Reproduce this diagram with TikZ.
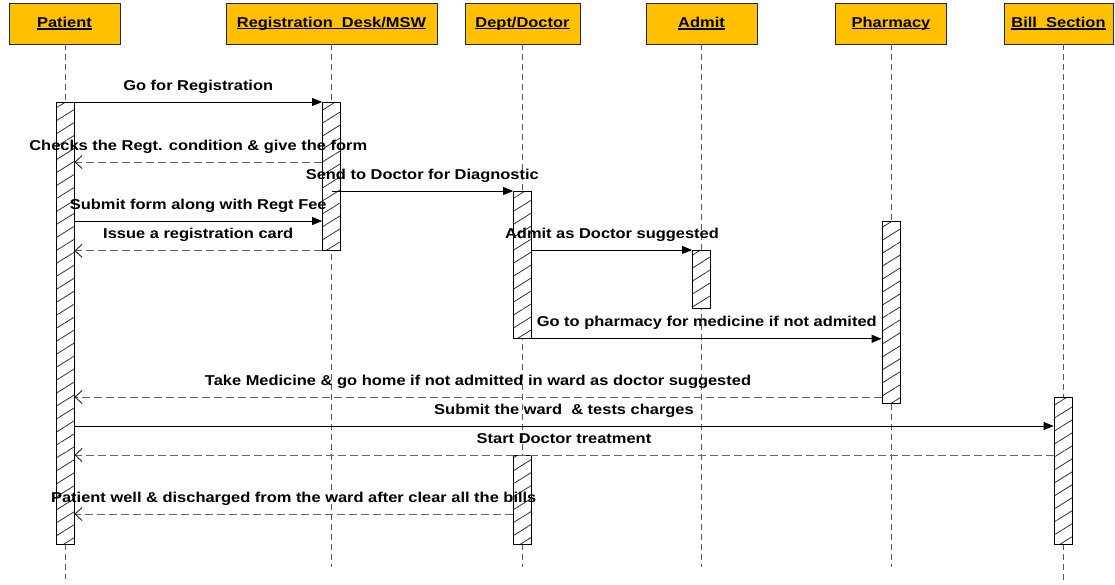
\documentclass[tikz,border=0pt]{standalone}
\usepackage{fontspec}
\setmainfont{Liberation Sans}[FakeStretch=1.15]
\usetikzlibrary{arrows.meta,patterns.meta}
\definecolor{hdrfill}{HTML}{FFC000}
\newcommand\hdrul[1]{\setbox0\hbox{#1}\rlap{\rule[-1.8pt]{\wd0}{1.1pt}}\box0}
\tikzset{
  hdr/.style={draw=black!85, line width=0.9pt, fill=hdrfill, minimum height=41pt, inner sep=0pt,
    font=\bfseries\fontsize{14.3}{16}\selectfont},
  life/.style={draw=black!65, line width=1pt, dash pattern=on 6pt off 4pt},
  actbar/.style={draw=black, line width=0.8pt, minimum width=18pt, inner sep=0pt, anchor=north,
    preaction={fill=white}, pattern={Lines[angle=32,distance=11pt,line width=0.8pt]},
    pattern color=black!80},
  call/.style={draw=black, line width=0.8pt, -{Triangle[length=10pt,width=8pt]}},
  ret/.style={draw=black!60, line width=0.9pt, dash pattern=on 8pt off 4pt,
    -{Straight Barb[length=7pt,width=13pt,color=black!85,line width=0.9pt]}},
  lbl/.style={midway, yshift=15.5pt, inner sep=0pt, text height=10pt, text depth=3pt,
    font=\bfseries\fontsize{14.3}{16}\selectfont}
}
\begin{document}
\begin{tikzpicture}[x=1pt,y=-1pt]
\useasboundingbox (0,0) rectangle (1115,584);
% headers
\node[hdr, minimum width=111pt] (patient) at (64.5,23.5) {\hdrul{Patient}};
\node[hdr, minimum width=211pt] (reg) at (331.5,23.5) {\hdrul{Registration\ \ Desk/MSW}};
\node[hdr, minimum width=115pt] (dept) at (522.5,23.5) {\hdrul{Dept/Doctor}};
\node[hdr, minimum width=111pt] (admit) at (701.5,23.5) {\hdrul{Admit}};
\node[hdr, minimum width=111pt] (pharm) at (891,23.5) {\hdrul{Pharmacy}};
\node[hdr, minimum width=109pt] (bill) at (1058.5,23.5) {\hdrul{Bill\ \ Section}};
% lifeline ends
\coordinate (pend) at (65,579);
\coordinate (rend) at (331.5,567);
\coordinate (dend) at (522.5,567);
\coordinate (aend) at (701.5,567);
\coordinate (phend) at (891,567);
\coordinate (bend) at (1063,584);
\draw[life] (patient.south -| pend) -- (pend);
\draw[life] (reg.south -| rend) -- (rend);
\draw[life] (dept.south -| dend) -- (dend);
\draw[life] (admit.south -| aend) -- (aend);
\draw[life] (pharm.south -| phend) -- (phend);
\draw[life] (bill.south -| bend) -- (bend);
% activation bars
\node[actbar, minimum height=442pt] (pbar) at (65,102) {};
\node[actbar, minimum height=148pt] (rbar) at (331.5,102) {};
\node[actbar, minimum height=147pt] (dbar) at (522.5,191) {};
\node[actbar, minimum height=58pt] (abar) at (701.5,250) {};
\node[actbar, minimum height=182pt] (phbar) at (891,221) {};
\node[actbar, minimum height=147pt] (bbar) at (1063,397) {};
\node[actbar, minimum height=89pt] (dbar2) at (522.5,455) {};
% messages
\draw[call] (pbar.north east) -- node[lbl]{Go for Registration} (rbar.north west);
\draw[ret] (rbar.west |- 0,162) -- node[lbl]{Checks the Regt. condition \& give the form} (pbar.east |- 0,162);
\draw[call] (rbar.center |- dbar.north) -- node[lbl]{Send to Doctor for Diagnostic} (dbar.north west);
\draw[call] (pbar.east |- 0,221) -- node[lbl]{Submit form along with Regt Fee} (rbar.west |- 0,221);
\draw[ret] (rbar.south west) -- node[lbl]{Issue a registration card} (pbar.east |- rbar.south);
\draw[call] (dbar.east |- abar.north) -- node[lbl]{Admit as Doctor suggested} (abar.north west);
\draw[call] (dbar.south east) -- node[lbl]{Go to pharmacy for medicine if not admited} (phbar.west |- dbar.south);
\draw[ret] (phbar.west |- 0,397) -- node[lbl]{Take Medicine \& go home if not admitted in ward as doctor suggested} (pbar.east |- 0,397);
\draw[call] (pbar.east |- 0,426) -- node[lbl]{Submit the ward\ \ \& tests charges} (bbar.west |- 0,426);
\draw[ret] (bbar.west |- dbar2.north) -- node[lbl]{Start Doctor treatment} (pbar.east |- dbar2.north);
\draw[ret] (dbar2.west |- 0,514) -- node[lbl]{Patient well \& discharged from the ward after clear all the bills} (pbar.east |- 0,514);
\end{tikzpicture}
\end{document}
